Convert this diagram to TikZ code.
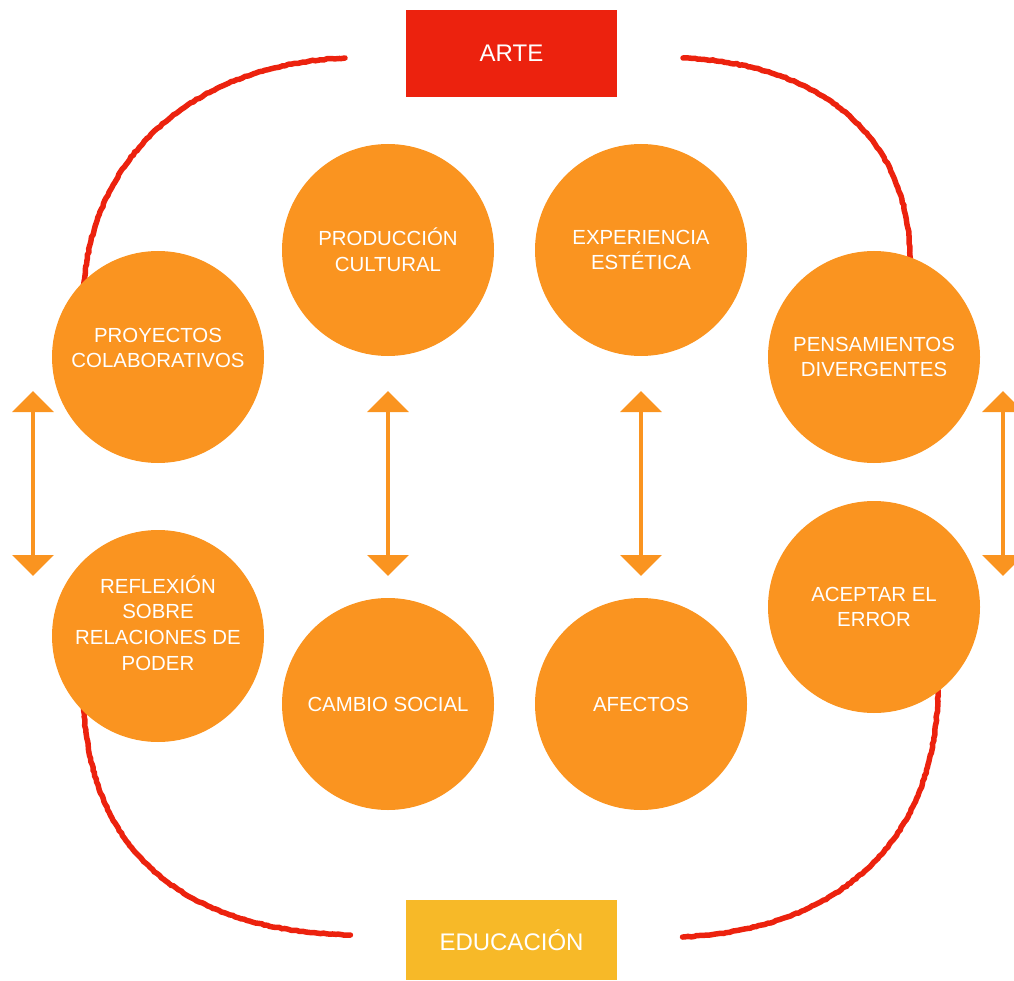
\documentclass[tikz,border=0pt]{standalone}
\usepackage{fontspec}
\setmainfont{Liberation Sans}
\usetikzlibrary{arrows.meta,decorations.pathmorphing}
\definecolor{orangec}{RGB}{250,148,32}
\definecolor{redc}{RGB}{236,34,14}
\definecolor{yellowc}{RGB}{247,185,40}
\definecolor{pencil}{RGB}{236,34,14}
\tikzset{
  bubble/.style={circle,fill=orangec,minimum size=212pt,inner sep=0pt},
  btext/.style={text=white,align=center,font=\fontsize{20.4}{25.6}\selectfont},
  headbox/.style={minimum width=211pt,text=white,inner sep=0pt,font=\fontsize{24}{28}\selectfont},
  crayon/.style={draw=pencil,line width=5.5pt,line cap=round,decorate,decoration={random steps,segment length=3pt,amplitude=0.5pt}},
  dblarrow/.style={draw=orangec,line width=4pt,{Triangle[width=41pt,length=21pt]}-{Triangle[width=41pt,length=21pt]}}
}
\begin{document}
\begin{tikzpicture}[x=1pt,y=-1pt]
\useasboundingbox (0,0) rectangle (1014,981);
% header boxes
\node[headbox,fill=redc,minimum height=87pt] (arte) at (511.5,53.5) {ARTE};
\node[headbox,fill=yellowc,minimum height=80pt] (edu) at (511.5,940) {EDUCACIÓN};
% crayon curves
\coordinate (tl1) at (345,58); \coordinate (tl2) at (83,295);
\coordinate (tr1) at (683,58); \coordinate (tr2) at (910,265);
\coordinate (bl1) at (83,690); \coordinate (bl2) at (350,935);
\coordinate (br1) at (938,690); \coordinate (br2) at (683,937);
\path[crayon] (tl1) .. controls (200,64) and (90,150) .. (tl2);
\path[crayon] (tr1) .. controls (825,64) and (912,140) .. (tr2);
\path[crayon] (bl1) .. controls (85,850) and (180,930) .. (bl2);
\path[crayon] (br1) .. controls (936,850) and (830,930) .. (br2);
% bubbles
\node[bubble] (prod) at (388,250) {};
\node[bubble] (expe) at (641,250) {};
\node[bubble] (proy) at (158,357) {};
\node[bubble] (pens) at (874,357) {};
\node[bubble] (refl) at (158,636) {};
\node[bubble] (acep) at (874,607) {};
\node[bubble] (camb) at (388,704) {};
\node[bubble] (afec) at (641,704) {};
% texts
\node[btext] at (prod.center) {PRODUCCIÓN\\CULTURAL};
\node[btext] at (expe.center) {EXPERIENCIA\\ESTÉTICA};
\node[btext] at ([yshift=9pt]proy.center) {PROYECTOS\\COLABORATIVOS};
\node[btext] at (pens.center) {PENSAMIENTOS\\DIVERGENTES};
\node[btext] at ([yshift=13pt]refl.center) {REFLEXIÓN\\SOBRE\\RELACIONES DE\\PODER};
\node[btext] at (acep.center) {ACEPTAR EL\\ERROR};
\node[btext] at (camb.center) {CAMBIO SOCIAL};
\node[btext] at (afec.center) {AFECTOS};
% arrows
\coordinate (a1t) at (33,391); \coordinate (a1b) at (33,576);
\coordinate (a2t) at (388,391); \coordinate (a2b) at (388,576);
\coordinate (a3t) at (641,391); \coordinate (a3b) at (641,576);
\coordinate (a4t) at (1003,391); \coordinate (a4b) at (1003,576);
\draw[dblarrow] (a1t) -- (a1b);
\draw[dblarrow] (a2t) -- (a2b);
\draw[dblarrow] (a3t) -- (a3b);
\draw[dblarrow] (a4t) -- (a4b);
\end{tikzpicture}
\end{document}
